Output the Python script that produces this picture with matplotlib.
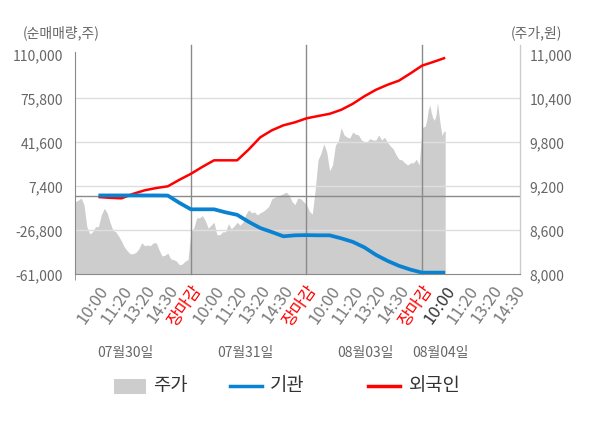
import numpy as np
import matplotlib
matplotlib.use("Agg")
import matplotlib.pyplot as plt
from matplotlib.patches import Rectangle
from matplotlib.lines import Line2D
import matplotlib.transforms as mtransforms

plt.rcParams['font.family'] = ['Noto Sans CJK KR', 'DejaVu Sans']

# ---------------- data ----------------
dates = ['07월30일', '07월31일', '08월03일', '08월04일']
date_label_pos = [0.43, 1.47, 2.51, 3.155]

tick_labels = ['10:00', '11:20', '13:20', '14:30', '장마감'] * 3 + ['10:00', '11:20', '13:20', '14:30']

# stock price (won), sampled evenly within each trading day
price_day1 = [8990, 9010, 9040, 8950, 8650, 8550, 8580, 8650, 8650, 8810,
              8900, 8840, 8710, 8600, 8580, 8520, 8450, 8370, 8320, 8280,
              8280, 8300, 8350, 8430, 8390, 8400, 8390, 8430, 8430, 8330,
              8250, 8260, 8290, 8210, 8200, 8180, 8130, 8140, 8180, 8200]
price_day2 = [8580, 8630, 8770, 8770, 8800, 8730, 8630, 8670, 8710, 8540,
              8540, 8580, 8580, 8690, 8620, 8660, 8710, 8670, 8710, 8820,
              8880, 8840, 8850, 8810, 8840, 8860, 8890, 8930, 9030, 9050,
              9070, 9080, 9100, 9120, 9080, 8990, 8950, 9040, 9030, 8990]
price_day3 = [8950, 8860, 8820, 9150, 9560, 9650, 9780, 9670, 9410, 9490,
              9760, 9820, 10000, 9900, 9870, 9860, 9940, 9910, 9900, 9830,
              9810, 9810, 9850, 9830, 9830, 9900, 9830, 9870, 9800, 9750,
              9710, 9630, 9570, 9560, 9520, 9490, 9520, 9520, 9570, 9490]
price_day4 = [10000, 10010, 10020, 10100, 10240, 10310, 10200, 10130, 10100, 10170,
              10340, 10170, 10010, 9890, 9950]
price_days = [price_day1, price_day2, price_day3, price_day4]
price_steps = [1 / 40, 1 / 40, 1 / 40, 1 / 75]

# cumulative net purchases (shares), sampled every 0.1 of a trading day from 10:00 on day 1
line_start, line_step = 0.2, 0.1
institution = [300, 300, 300, 300, 300, 300, 200, -5440, -10490, -10490,
               -10490, -12830, -14770, -20210, -25030, -28140, -31480, -30700, -30550, -30700,
               -30700, -33030, -35760, -40030, -45860, -50520, -54410, -57360, -59700, -59700,
               -59700]
foreign = [-930, -1550, -1940, 1550, 4270, 6060, 7380, 12440, 17100, 22540,
           27590, 27590, 27590, 35990, 45470, 50910, 54800, 57130, 60240, 62030,
           63740, 66850, 71510, 77340, 82390, 86280, 89540, 95220, 101200, 104160,
           107270]

left_ticks = [-61000, -26800, 7400, 41600, 75800, 110000]
right_ticks = [8000, 8600, 9200, 9800, 10400, 11000]

# ---------------- figure ----------------
W, H = 600, 428
fig = plt.figure(figsize=(W / 100, H / 100), dpi=100)
fig.patch.set_facecolor('white')

ax_l, ax_r, ax_t, ax_b = 75.3, 520.0, 51.7, 274.3
ax = fig.add_axes([ax_l / W, 1 - ax_b / H, (ax_r - ax_l) / W, (ax_b - ax_t) / H])
ax2 = ax.twinx()
# price axis behind, volume axis in front
ax.set_zorder(ax2.get_zorder() + 1)
ax.patch.set_visible(False)
ax2.patch.set_facecolor('#f4f4f4')

xmax = 3.847
ax.set_xlim(0, xmax)
px_per_unit_l = 171000 / (274.3 - 54.3)
ax.set_ylim(-61000, 110000 + (54.3 - ax_t) * px_per_unit_l)
px_per_unit_r = 3000 / (274.3 - 54.3)
ax2.set_ylim(8000, 11000 + (54.3 - ax_t) * px_per_unit_r)

# price area
px, py = [], []
for d, (vals, st) in enumerate(zip(price_days, price_steps)):
    xs = d + np.arange(len(vals)) * st
    px.extend(xs)
    py.extend(vals)
last_step = price_steps[-1]
px.append(px[-1] + last_step)
py.append(py[-1])
ax2.fill_between(px, 8000, py, color='#cdcdcd', linewidth=0, zorder=1)

# grid lines
for t in left_ticks[1:-1]:
    ax.axhline(t, color='#dedede', lw=1.0, zorder=1)
ax.axhline(0, color='#8a8a8a', lw=1.0, zorder=2)
for d in range(1, 4):
    ax.axvline(d, ymin=0, ymax=1.03, color='#8a8a8a', lw=1.0, zorder=2, clip_on=False)

# lines
lx = line_start + np.arange(len(foreign)) * line_step
ax.plot(lx, foreign, color='#ff0000', lw=1.8, zorder=4, solid_capstyle='butt')
ax.plot(lx, institution, color='#0a82d2', lw=2.7, zorder=5, solid_capstyle='butt')

# spines
for s in ['top', 'right']:
    ax.spines[s].set_visible(False)
    ax2.spines[s].set_visible(False)
ax2.spines['left'].set_visible(False)
ax2.spines['bottom'].set_visible(False)
ax.spines['left'].set_color('#8a8a8a')
ax.spines['bottom'].set_color('#8a8a8a')
ax.axvline(xmax, ymin=0, ymax=1.03, color='#cccccc', lw=1.0, zorder=2, clip_on=False)

# y ticks
ax.set_yticks(left_ticks)
ax.set_yticklabels([f'{v:,}' for v in left_ticks])
ax.tick_params(axis='y', length=0, pad=9, labelsize=10, labelcolor='#666666')
ax2.set_yticks(right_ticks)
ax2.set_yticklabels([f'{v:,}' for v in right_ticks])
ax2.tick_params(axis='y', length=0, pad=7, labelsize=10, labelcolor='#666666')

# x ticks
xt = []
for d in range(4):
    for j in range(1, 6):
        if d == 3 and j == 5:
            break
        xt.append(d + 0.2 * j)
ax.set_xticks(xt)
ax.set_xticklabels(tick_labels, rotation=55, ha='right', rotation_mode='anchor')
ax.tick_params(axis='x', length=0, pad=6, labelsize=12)
for i, lab in enumerate(ax.get_xticklabels()):
    if tick_labels[i] == '장마감':
        lab.set_color('#ff0000')
    elif i == 15:
        lab.set_color('#333333')
    else:
        lab.set_color('#7a7a7a')
ax.set_xticks([0, 1, 2, 3], minor=True)
ax.tick_params(axis='x', which='minor', length=4, color='#8a8a8a')

# date labels
trans = mtransforms.blended_transform_factory(ax.transData, ax.transAxes)
for pos, dt in zip(date_label_pos, dates):
    ax.text(pos, (ax_b - 353) / (ax_b - ax_t), dt, transform=trans, ha='center', va='center',
            fontsize=10, color='#666666')

# unit labels
fig.text(61 / W, 1 - 33 / H, '(순매매량,주)', ha='center', va='center', fontsize=10, color='#666666')
fig.text(536 / W, 1 - 33 / H, '(주가,원)', ha='center', va='center', fontsize=10, color='#666666')

# legend
ly = 1 - 386 / H
fig.add_artist(Rectangle((114 / W, 1 - 394 / H), 32 / W, 15 / H, transform=fig.transFigure,
                         facecolor='#cdcdcd', edgecolor='none'))
fig.text(153 / W, ly, '주가', ha='left', va='center', fontsize=13.5, color='#333333')
fig.add_artist(Line2D([230 / W, 262 / W], [ly, ly], transform=fig.transFigure, color='#0a82d2', lw=2.5))
fig.text(270 / W, ly, '기관', ha='left', va='center', fontsize=13.5, color='#333333')
fig.add_artist(Line2D([368 / W, 400 / W], [ly, ly], transform=fig.transFigure, color='#ff0000', lw=2.5))
fig.text(409 / W, ly, '외국인', ha='left', va='center', fontsize=13.5, color='#333333')

fig.savefig('out.png', dpi=100)
